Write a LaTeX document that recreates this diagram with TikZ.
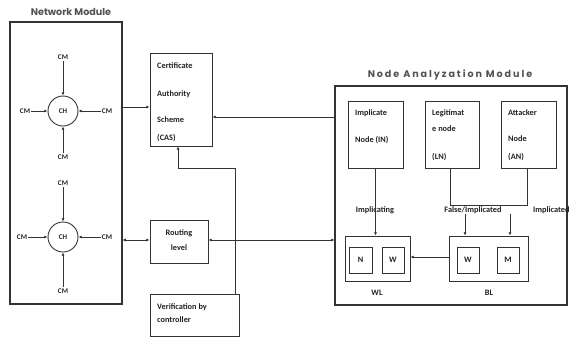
\documentclass[tikz,border=0pt]{standalone}
\usepackage{fontspec}
\setmainfont{Carlito}
\newfontfamily\titlefont{Poppins}
\newfontfamily\titlefontsp[LetterSpace=20]{Poppins}
\usetikzlibrary{arrows.meta}
\definecolor{lncol}{HTML}{333333}
\definecolor{txcol}{HTML}{222222}
\begin{document}
\begin{tikzpicture}[x=1pt,y=-1pt,
  box/.style={draw=lncol,line width=0.9pt,rectangle,inner sep=0pt},
  modbox/.style={draw=lncol,line width=1.1pt,rectangle,inner sep=0pt},
  small/.style={font=\fontsize{8.3}{9}\selectfont\bfseries,text=txcol,inner sep=0pt},
  ln/.style={small,anchor=base west},
  cmlbl/.style={font=\fontsize{7.2}{8}\selectfont\bfseries,text=txcol,inner sep=1pt},
  ttl/.style={font=\titlefont\fontsize{9.6}{11}\selectfont\bfseries,text=lncol!85!white,inner sep=0pt},
  ttlsp/.style={font=\titlefontsp\fontsize{9.6}{11}\selectfont\bfseries,text=lncol!85!white,inner sep=0pt},
  chc/.style={circle,draw=lncol,line width=0.9pt,minimum size=30pt,inner sep=0pt,font=\fontsize{7.2}{8}\selectfont\bfseries,text=txcol},
  arr/.style={draw=lncol,line width=0.8pt,-{Latex[length=3.2pt,width=3pt]}},
  barr/.style={draw=lncol,line width=0.8pt,{Latex[length=3.2pt,width=3pt]}-{Latex[length=3.2pt,width=3pt]}},
  con/.style={draw=lncol,line width=0.8pt}]
\useasboundingbox (0,0) rectangle (570,338);

% Network module
\node[modbox,minimum width=112pt,minimum height=282pt] (nm) at (66,163) {};
\node[ttl] (nmt) at (71,12) {Network Module};

\node[chc] (ch1) at (63,111) {CH};
\node[cmlbl] (c1t) at (63,57) {CM};
\node[cmlbl] (c1l) at (25,111) {CM};
\node[cmlbl] (c1r) at (107,111) {CM};
\node[cmlbl] (c1b) at (63,157) {CM};
\draw[arr] (c1t) -- (ch1);
\draw[arr] (c1l) -- (ch1);
\draw[arr] (c1r) -- (ch1);
\draw[arr] (c1b) -- (ch1);

\node[chc] (ch2) at (63,237) {CH};
\node[cmlbl] (c2t) at (63,183) {CM};
\node[cmlbl] (c2l) at (22,237) {CM};
\node[cmlbl] (c2r) at (107,237) {CM};
\node[cmlbl] (c2b) at (63,291) {CM};
\draw[arr] (c2t) -- (ch2);
\draw[arr] (c2l) -- (ch2);
\draw[arr] (c2r) -- (ch2);
\draw[arr] (c2b) -- (ch2);

% middle column
\node[box,minimum width=62pt,minimum height=93pt] (cas) at (181,99.5) {};
\node[ln] (cas1) at (157,68) {Certificate};
\node[ln] (cas2) at (157,96) {Authority};
\node[ln] (cas3) at (157,122) {Scheme};
\node[ln] (cas4) at (157,140) {(CAS)};
\node[box,minimum width=58pt,minimum height=43pt] (rl) at (179,241.5) {};
\node[small,anchor=base] (rl1) at (179,235) {Routing};
\node[small,anchor=base] (rl2) at (179,250) {level};
\node[box,minimum width=89pt,minimum height=42pt] (ver) at (194.5,315) {};
\node[ln] (ver1) at (157,309) {Verification by};
\node[ln] (ver2) at (157,322) {controller};

% Node analyzation module
\node[modbox,minimum width=232pt,minimum height=219pt] (nam) at (451,195.5) {};
\node[ttlsp] (namt) at (450,75) {Node Analyzation Module};

\node[box,minimum width=55pt,minimum height=67pt] (in) at (375.5,134.5) {};
\node[ln] (in1) at (355,115) {Implicate};
\node[ln] (in2) at (355,142) {Node (IN)};
\node[box,minimum width=54pt,minimum height=67pt] (lnn) at (452,134.5) {};
\node[ln] (ln1) at (432,115) {Legitimat};
\node[ln] (ln2) at (432,131) {e node};
\node[ln] (ln3) at (432,159) {(LN)};
\node[box,minimum width=55pt,minimum height=67pt] (an) at (528.5,134.5) {};
\node[ln] (an1) at (508,115) {Attacker};
\node[ln] (an2) at (508,141) {Node};
\node[ln] (an3) at (508,159) {(AN)};

\node[box,minimum width=65pt,minimum height=45pt] (wl) at (377.5,258.5) {};
\node[box,minimum width=23pt,minimum height=26pt,small] (wln) at (360.5,260) {N};
\node[box,minimum width=22pt,minimum height=26pt,small] (wlw) at (393,260) {W};
\node[small] (wlt) at (377,293) {WL};
\node[box,minimum width=79pt,minimum height=45pt] (bl) at (488.5,258.5) {};
\node[box,minimum width=22pt,minimum height=26pt,small] (blw) at (468,260) {W};
\node[box,minimum width=22pt,minimum height=26pt,small] (blm) at (508,260) {M};
\node[small] (blt) at (489,293) {BL};

% labels
\node[small] (limp) at (375,210) {Implicating};
\node[small] (lfi) at (473,210) {False/Implicated};
\node[small,anchor=west] (limp2) at (533,210) {Implicated};
\coordinate (j1) at (465,214);
\coordinate (j2) at (510,214);
\coordinate (lnb) at (450,205);
\coordinate (anb) at (527,205);

% connectors
\draw[arr] (in.south) -- (wl.north -| in.south);
\draw[con] (lnn.south -| lnb) -- (lnb) -- (anb) -- (an.south -| anb);
\draw[arr] (j1) -- (bl.north -| j1);
\draw[arr] (j2) -- (bl.north -| j2);
\draw[arr] (bl.west |- 0,257) -- (wl.east |- 0,257);

\draw[arr] (nm.east |- 0,107) -- (cas.west |- 0,107);
\draw[arr] (nam.west |- 0,117) -- (cas.east |- 0,117);
\coordinate (v1) at (235,168);
\coordinate (v2) at (178,168);
\draw[arr] (ver.north -| v1) -- (v1) -- (v2) -- (cas.south -| v2);
\draw[barr] (nm.east |- 0,240) -- (rl.west |- 0,240);
\draw[barr] (rl.east |- 0,240) -- (nam.west |- 0,240);
\end{tikzpicture}
\end{document}
